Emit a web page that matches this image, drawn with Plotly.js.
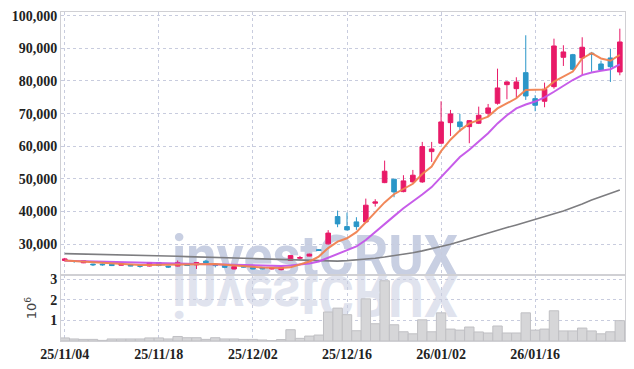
<!DOCTYPE html>
<html>
<head>
<meta charset="utf-8">
<script src="https://cdn.plot.ly/plotly-3.0.1.min.js"></script>
<style>
html,body{margin:0;padding:0;background:#fff;}
#wrap{position:relative;width:634px;height:369px;}
#wm{position:absolute;left:0;top:0;z-index:0;}
#wm text{font-family:Roboto, 'Liberation Sans', sans-serif;font-weight:700;font-size:58px;}
#chart{position:absolute;left:0;top:0;z-index:1;width:634px;height:369px;}
</style>
</head>
<body>
<div id="wrap">
<svg id="wm" width="634" height="369" xmlns="http://www.w3.org/2000/svg">
  <text x="172" y="276" fill="rgb(200,207,226)" textLength="286" lengthAdjust="spacingAndGlyphs">investCRUX</text>
  <text x="172" y="276" transform="translate(0,552) scale(1,-1)" fill="rgb(224,227,238)" textLength="286" lengthAdjust="spacingAndGlyphs">investCRUX</text>
</svg>
<div id="chart"></div>
</div>
<script>
const dates = [
 '2025-11-04','2025-11-05','2025-11-06','2025-11-07','2025-11-10','2025-11-11','2025-11-12','2025-11-13','2025-11-14','2025-11-17',
 '2025-11-18','2025-11-19','2025-11-20','2025-11-21','2025-11-24','2025-11-25','2025-11-26','2025-11-27','2025-11-28','2025-12-01',
 '2025-12-02','2025-12-03','2025-12-04','2025-12-05','2025-12-08','2025-12-09','2025-12-10','2025-12-11','2025-12-12','2025-12-15',
 '2025-12-16','2025-12-17','2025-12-18','2025-12-19','2025-12-22','2025-12-23','2025-12-24','2025-12-26','2025-12-29','2025-12-30',
 '2026-01-02','2026-01-05','2026-01-06','2026-01-07','2026-01-08','2026-01-09','2026-01-12','2026-01-13','2026-01-14','2026-01-15',
 '2026-01-16','2026-01-19','2026-01-20','2026-01-21','2026-01-22','2026-01-23','2026-01-26','2026-01-27','2026-01-28','2026-01-29'
];
const open = [
 25000,24900,24300,23900,23900,23850,23550,23750,23400,23300,
 24400,23300,23300,23700,23650,24800,23850,23550,22400,23300,
 22950,22900,22400,22200,25000,25700,26350,28300,30100,38460,
 35390,36830,36830,42560,48860,49900,46110,49080,49080,58360,
 60930,67240,67450,66010,67050,70110,73180,78870,77650,82550,
 74590,73790,78260,87260,88060,87050,88500,85210,87050,82760
];
const high = [
 25800,25000,25000,24000,24100,23900,24000,23800,23400,24500,
 24400,23400,25000,23800,24500,25200,23900,23600,23200,23400,
 23000,23000,22800,23200,26600,26400,27100,28500,34300,40290,
 39680,38260,43960,43780,55600,50000,51130,52750,61330,61330,
 73790,71130,69900,68000,72140,72960,83770,79900,81140,94000,
 75620,79500,92960,90940,88300,93390,88900,86220,89900,96020
];
const low = [
 24700,24300,24200,23300,23400,23300,23500,23250,22800,23200,
 23400,22700,23200,23300,22400,24200,22900,22800,22300,22900,
 22300,22300,22300,22000,24900,25200,26300,27900,29900,35200,
 34200,34380,36700,41520,48700,44390,45900,48900,48800,55200,
 60800,63160,64480,60930,66800,68980,72750,74400,74800,74200,
 70730,71950,77650,84600,83400,81840,82800,83200,79700,81750
];
const close = [
 25500,24700,24900,23700,23700,23450,23950,23300,23250,24400,
 23450,23000,24400,23500,24400,24300,23450,22900,23100,23000,
 22400,22400,22700,22900,26500,25900,26950,28100,33400,36220,
 34380,35390,41940,42950,52360,46020,49390,51130,59900,59180,
 67450,69900,66010,67850,69500,71740,77860,79700,79700,75410,
 72560,77460,90720,88890,83590,90330,88100,83380,84380,91950
];
const volumeM = [
 0.15,0.10,0.08,0.08,0.03,0.10,0.10,0.10,0.10,0.15,
 0.15,0.10,0.22,0.16,0.16,0.08,0.16,0.10,0.10,0.08,
 0.08,0.05,0.02,0.07,0.55,0.13,0.24,0.29,1.41,1.60,
 1.28,0.50,2.05,0.84,2.93,0.79,0.45,0.35,1.03,0.45,
 1.37,0.58,0.53,0.68,0.44,0.39,0.73,0.39,0.39,1.37,
 0.53,0.58,1.47,0.49,0.49,0.63,0.49,0.35,0.45,0.99
];
const ma5 = [
 25000,24800,24600,24400,24200,24000,23800,23700,23600,23650,
 23700,23650,23700,23700,23800,23950,23900,23700,23450,23250,
 23050,22850,22750,22700,22900,23800,24700,26200,28800,30800,
 31800,33700,36800,39800,42800,45300,46800,48500,51500,53800,
 58500,62000,64800,67000,68000,69100,71600,73200,74700,77200,
 77250,77400,79800,81300,82900,86900,88500,86900,86200,88000
];
const ma20 = [
 24900,24850,24800,24700,24650,24600,24500,24450,24350,24300,
 24200,24150,24100,24000,23950,23900,23800,23700,23650,23550,
 23450,23400,23350,23350,23500,23700,24100,24700,25800,27000,
 28200,29300,31300,33800,36000,38600,41000,43000,45200,47500,
 50500,53800,56700,58900,61500,64000,67000,69500,71600,72800,
 73700,75000,76700,78500,80300,81800,82600,83100,83600,85100
];
const ma60 = [
 27100,27050,27000,26950,26850,26800,26750,26650,26600,26500,
 26450,26350,26300,26200,26150,26050,26000,25900,25800,25700,
 25600,25500,25400,25300,25200,25100,25000,24900,24800,24800,
 24950,25150,25400,25700,26050,26450,26900,27400,27950,28550,
 29200,29950,30800,31700,32600,33500,34300,35100,35900,36700,
 37500,38400,39300,40200,41200,42300,43500,44600,45600,46600
];
const tickDates = ['2025-11-04','2025-11-18','2025-12-02','2025-12-16','2026-01-02','2026-01-16'];
const tickLabels = ['25/11/04','25/11/18','25/12/02','25/12/16','26/01/02','26/01/16'];
const priceTicks = [30000,40000,50000,60000,70000,80000,90000,100000];
const volTicks = [1,2,3];

const UP = 'rgb(232,26,104)';
const DOWN = 'rgb(42,150,200)';
const GRID = 'rgb(200,204,222)';
const LINE = 'rgb(208,208,212)';
const tickFont = {family:'Liberation Sans Narrow', size:14, color:'#222', weight:'bold'};

const traces = [
 {type:'bar', x:dates, y:volumeM, xaxis:'x', yaxis:'y2',
  marker:{color:'rgb(214,214,216)', line:{color:'rgb(192,192,196)', width:1}}, hoverinfo:'skip'},
 {type:'scatter', mode:'lines', x:dates, y:ma60, xaxis:'x', yaxis:'y',
  line:{color:'rgb(125,125,128)', width:1.6}},
 {type:'candlestick', x:dates, open:open, high:high, low:low, close:close, xaxis:'x', yaxis:'y',
  increasing:{line:{color:UP, width:1}, fillcolor:UP},
  decreasing:{line:{color:DOWN, width:1}, fillcolor:DOWN}, whiskerwidth:0},
 {type:'scatter', mode:'lines', x:dates, y:ma20, xaxis:'x', yaxis:'y',
  line:{color:'rgb(196,84,232)', width:2}, opacity:0.95},
 {type:'scatter', mode:'lines', x:dates, y:ma5, xaxis:'x', yaxis:'y',
  line:{color:'rgb(240,130,80)', width:2}, opacity:0.95}
];

const layout = {
 width:634, height:369,
 margin:{l:61, r:9, t:12, b:28},
 paper_bgcolor:'rgba(0,0,0,0)', plot_bgcolor:'rgba(0,0,0,0)',
 showlegend:false, bargap:0,
 font:tickFont,
 xaxis:{type:'category', anchor:'y2', range:[-0.4,59.55], rangeslider:{visible:false},
  tickmode:'array', tickvals:tickDates, ticktext:tickLabels, ticks:'',
  showgrid:true, gridcolor:GRID, griddash:'dot', gridwidth:1,
  showline:true, linecolor:LINE, linewidth:1, mirror:'all', tickfont:tickFont},
 yaxis:{domain:[0.2,1], range:[20500,101130], tickmode:'array', tickvals:priceTicks,
  tickformat:',d', ticks:'', showgrid:true, gridcolor:GRID, griddash:'dot',
  showline:true, linecolor:LINE, mirror:true, zeroline:false, tickfont:tickFont},
 yaxis2:{domain:[0,0.2], range:[0,3.2], tickmode:'array', tickvals:volTicks, ticks:'',
  showgrid:true, gridcolor:GRID, griddash:'dot',
  showline:true, linecolor:LINE, mirror:true, zeroline:false, tickfont:tickFont,
  title:{text:'10<sup>6</sup>', font:{family:'DejaVu Sans', size:13, color:'#444', weight:'normal'}, standoff:10}}
};

Plotly.newPlot('chart', traces, layout, {staticPlot:true, displayModeBar:false});
</script>
</body>
</html>
